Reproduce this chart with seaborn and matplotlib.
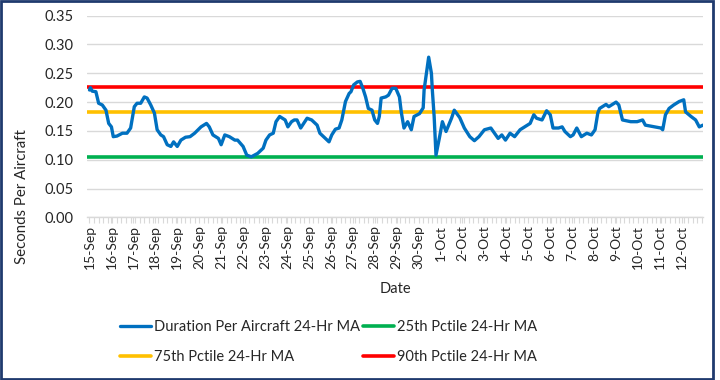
import matplotlib
matplotlib.use("Agg")
import matplotlib.pyplot as plt
from matplotlib.patches import Rectangle
from matplotlib.ticker import MultipleLocator, FixedLocator
import numpy as np
import pandas as pd
import seaborn as sns

# ---- data (hours since 15-Sep 00:00, seconds per aircraft) ----
hours = [0, 1, 3, 7, 10, 14, 18, 21, 24, 26, 30, 36, 41, 45, 49, 52, 56, 60, 63, 67,
         71, 74, 78, 81, 85, 89, 92, 96, 100, 105, 110, 115, 122, 128, 131, 135, 141,
         144, 148, 153, 159, 162, 168, 172, 177, 184, 190, 193, 197, 201, 204, 208,
         214, 217, 221, 224, 227, 231, 238, 243, 249, 252, 258, 262, 265, 269, 273,
         276, 280, 284, 286, 289, 293, 296, 299, 302, 305, 309, 312, 315, 317, 319,
         324, 327, 331, 335, 339, 341, 344, 348, 352, 355, 361, 365, 366, 369, 371,
         374, 375, 377, 379, 383, 386, 390, 396, 399, 405, 410, 416, 421, 426, 432,
         439, 443, 447, 451, 455, 460, 465, 471, 476, 482, 486, 489, 495, 500, 504,
         507, 513, 517, 520, 526, 529, 533, 538, 544, 549, 553, 556, 558, 565, 568,
         576, 579, 583, 592, 599, 605, 608, 618, 625, 627, 630, 634, 639, 645, 650,
         652, 658, 663, 667, 671]
duration = [0.221, 0.225, 0.219, 0.218, 0.198, 0.195, 0.186, 0.163, 0.157, 0.140,
            0.141, 0.146, 0.146, 0.155, 0.192, 0.198, 0.198, 0.209, 0.207, 0.195,
            0.181, 0.152, 0.143, 0.140, 0.126, 0.123, 0.131, 0.123, 0.134, 0.139,
            0.140, 0.146, 0.157, 0.163, 0.157, 0.143, 0.137, 0.126, 0.143, 0.140,
            0.134, 0.134, 0.123, 0.108, 0.105, 0.111, 0.120, 0.134, 0.143, 0.146,
            0.166, 0.175, 0.169, 0.157, 0.166, 0.169, 0.169, 0.155, 0.172, 0.169,
            0.160, 0.146, 0.137, 0.131, 0.143, 0.153, 0.155, 0.169, 0.201, 0.215,
            0.218, 0.230, 0.235, 0.236, 0.224, 0.209, 0.189, 0.186, 0.169, 0.163,
            0.175, 0.207, 0.209, 0.212, 0.224, 0.224, 0.209, 0.183, 0.155, 0.166,
            0.152, 0.175, 0.180, 0.190, 0.221, 0.256, 0.278, 0.250, 0.221, 0.175,
            0.108, 0.140, 0.166, 0.149, 0.172, 0.186, 0.173, 0.155, 0.140, 0.133,
            0.140, 0.152, 0.155, 0.146, 0.137, 0.143, 0.134, 0.146, 0.140, 0.152,
            0.157, 0.163, 0.178, 0.172, 0.169, 0.185, 0.178, 0.155, 0.155, 0.157,
            0.149, 0.140, 0.143, 0.155, 0.140, 0.146, 0.143, 0.152, 0.181, 0.189,
            0.196, 0.192, 0.200, 0.195, 0.169, 0.166, 0.166, 0.169, 0.160, 0.157,
            0.155, 0.152, 0.178, 0.189, 0.195, 0.201, 0.204, 0.183, 0.175, 0.169,
            0.157, 0.160]

pctile_names = ["25th Pctile 24-Hr MA", "75th Pctile 24-Hr MA", "90th Pctile 24-Hr MA"]
pctile_values = [0.104, 0.182, 0.227]
pctile_colors = ["#00B050", "#FFC000", "#FF0000"]

series_name = "Duration Per Aircraft 24-Hr MA"
date_labels = ["15-Sep", "16-Sep", "17-Sep", "18-Sep", "19-Sep", "20-Sep", "21-Sep",
               "22-Sep", "23-Sep", "24-Sep", "25-Sep", "26-Sep", "27-Sep", "28-Sep",
               "29-Sep", "30-Sep", "1-Oct", "2-Oct", "3-Oct", "4-Oct", "5-Oct",
               "6-Oct", "7-Oct", "8-Oct", "9-Oct", "10-Oct", "11-Oct", "12-Oct"]
y_ticks = [0.00, 0.05, 0.10, 0.15, 0.20, 0.25, 0.30, 0.35]

# ---- style ----
sns.set_theme(style="white")
plt.rcParams["font.family"] = ["Lato", "DejaVu Sans"]
text_color = "#262626"
grid_color = "#D9D9D9"

fig = plt.figure(figsize=(7.2, 3.8), dpi=100)
ax = fig.add_axes([87.3 / 720, 1 - 217.3 / 380, (703.3 - 87.3) / 720, (217.3 - 15.7) / 380])

df = pd.DataFrame({"hour": hours, "value": duration})
sns.lineplot(data=df, x="hour", y="value", ax=ax, color="#0070C0", linewidth=2.4,
             estimator=None, sort=True, label=series_name, zorder=4)
for name, val, col in zip(pctile_names, pctile_values, pctile_colors):
    ax.axhline(val, color=col, linewidth=2.6, label=name, zorder=3)

ax.set_ylim(0, 0.35)
ax.set_xlim(-2.4, 671.4)
ax.yaxis.set_major_locator(FixedLocator(y_ticks))
ax.set_yticklabels([f"{v:.2f}" for v in y_ticks])
ax.grid(axis="y", color=grid_color, linewidth=1.0, zorder=0)
ax.grid(axis="x", visible=False)

ax.set_xticks([24 * d for d in range(len(date_labels))])
ax.set_xticklabels(date_labels, rotation=90)
ax.xaxis.set_minor_locator(MultipleLocator(5))

for s in ["left", "right", "top"]:
    ax.spines[s].set_visible(False)
ax.spines["bottom"].set_color(grid_color)
ax.spines["bottom"].set_linewidth(1.0)

ax.tick_params(axis="x", which="both", bottom=True, length=4, width=0.8, color=grid_color,
               labelsize=10, labelcolor=text_color, pad=1.5)
ax.tick_params(axis="y", length=0, labelsize=10.5, labelcolor=text_color, pad=10)

ax.set_xlabel("")
ax.set_ylabel("")
fig.text(395 / 720, 1 - 289 / 380, "Date", ha="center", va="center", fontsize=10.5,
         color=text_color)
fig.text(22 / 720, 1 - 197 / 380, "Seconds Per Aircraft", ha="center", va="center",
         rotation=90, fontsize=10.8, color=text_color)

handles, labels = ax.get_legend_handles_labels()
if ax.get_legend() is not None:
    ax.get_legend().remove()
order = [0, 2, 1, 3]  # column-major: Duration, 75th | 25th, 90th
leg = fig.legend([handles[i] for i in order], [labels[i] for i in order], ncol=2,
                 loc="upper left", bbox_to_anchor=(120 / 720, 1 - 320 / 380),
                 frameon=False, fontsize=10.5, handlelength=2.1, handletextpad=0.2,
                 columnspacing=0.25, labelspacing=1.1, borderpad=0, borderaxespad=0)
for t in leg.get_texts():
    t.set_color(text_color)

fig.patches.append(Rectangle((0.002, 0.003), 713 / 720 - 0.002, 0.994,
                             transform=fig.transFigure, fill=False,
                             edgecolor="#1F3A6E", linewidth=2))

fig.savefig("out.png", dpi=100)
